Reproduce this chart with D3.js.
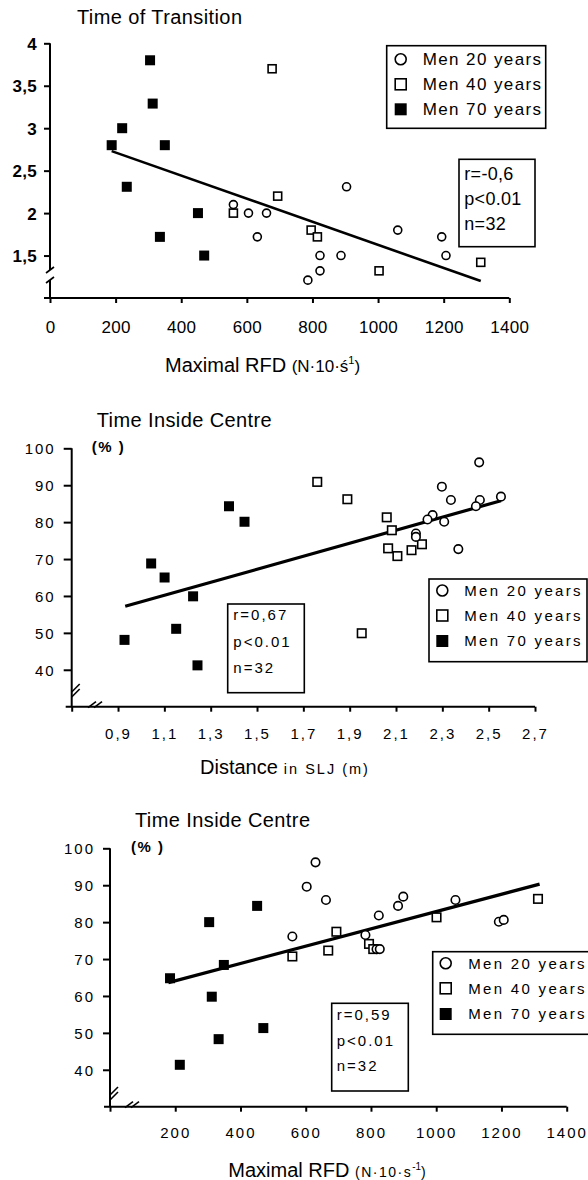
<!DOCTYPE html>
<html>
<head>
<meta charset="utf-8">
<script src="https://cdn.jsdelivr.net/npm/d3@7"></script>
<style>
  body { margin: 0; background: #fff; }
  svg { display: block; font-family: "Liberation Sans", Arial, sans-serif; }
</style>
</head>
<body>
<svg id="fig" width="588" height="1180"></svg>
<script>
// ---- Panel 1 : Time of Transition vs maximal RFD
const trans20 = [[559,2.1],[605,2.0],[660,2.0],[632,1.72],[904,2.31],[823,1.5],[887,1.5],[823,1.32],[786,1.21],[1060,1.8],[1194,1.72],[1207,1.5]];
const trans40 = [[677,3.7],[694,2.2],[559,2.0],[796,1.8],[815,1.72],[1003,1.32],[1313,1.42]];
const trans70 = [[305,3.8],[313,3.29],[220,3.0],[188,2.8],[350,2.8],[234,2.31],[451,2.0],[335,1.72],[470,1.5]];
const transFit = [[188,2.73],[1313,1.2]];
const transXTicks = [0,200,400,600,800,1000,1200,1400];
const transYTicks = [1.5,2,2.5,3,3.5,4];
const transStats = ["r=-0,6","p<0.01","n=32"];

// ---- Panel 2 : Time inside centre vs distance in SLJ
const slj20 = [[2.459,96.2],[2.298,89.6],[2.337,86.0],[2.462,86.0],[2.445,84.3],[2.553,86.9],[2.258,81.9],[2.236,80.7],[2.308,80.1],[2.186,76.9],[2.186,76.0],[2.369,72.7]];
const slj40 = [[1.76,90.9],[1.89,86.2],[2.06,81.3],[2.082,77.8],[2.066,72.9],[2.106,70.8],[2.167,72.4],[2.212,74.0],[1.952,49.9]];
const slj70 = [[1.379,84.3],[1.446,80.1],[1.043,68.8],[1.101,65.0],[1.224,59.9],[0.928,48.1],[1.151,51.1],[1.243,41.2]];
const sljFit = [[0.931,57.2],[2.553,85.8]];
const sljXTicks = [0.7,0.9,1.1,1.3,1.5,1.7,1.9,2.1,2.3,2.5,2.7];
const centreYTicks = [40,50,60,70,80,90,100];
const sljStats = ["r=0,67","p<0.01","n=32"];

// ---- Panel 3 : Time inside centre vs maximal RFD
const rfd20 = [[630,96.2],[603,89.6],[662,86.0],[899,86.9],[883,84.4],[824,81.8],[1059,86.0],[1192,80.1],[1207,80.6],[559,76.1],[783,76.5],[817,72.7],[827,72.7]];
const rfd40 = [[694,77.4],[669,72.3],[559,70.7],[794,74.1],[807,72.7],[1001,81.3],[1312,86.3]];
const rfd70 = [[184,64.8],[304,80.0],[451,84.4],[349,68.4],[312,59.8],[214,41.35],[333,48.3],[470,51.3]];
const rfdFit = [[179,63.6],[1317,90.3]];
const rfdXTicks = [0,200,400,600,800,1000,1200,1400];
const rfdStats = ["r=0,59","p<0.01","n=32"];

const groupLabels = ["Men 20 years","Men 40 years","Men 70 years"];

const svg = d3.select("#fig");
const comma = d => String(d).replace(".", ",");

function marker(sel, kind, cx, cy, s){
  if (kind === 0){
    sel.append("circle").attr("cx",cx).attr("cy",cy).attr("r",s/2)
      .attr("fill","#fff").attr("stroke","#000").attr("stroke-width",1.6);
  } else if (kind === 1){
    sel.append("rect").attr("x",cx-s/2).attr("y",cy-s/2).attr("width",s).attr("height",s)
      .attr("fill","#fff").attr("stroke","#000").attr("stroke-width",1.6);
  } else {
    sel.append("rect").attr("x",cx-s/2-0.5).attr("y",cy-s/2-0.5).attr("width",s+1).attr("height",s+1)
      .attr("fill","#000");
  }
}

function drawPanel(p){
  const g = svg.append("g");
  const x = d3.scaleLinear().domain(p.xDomain).range(p.xRange);
  const y = d3.scaleLinear().domain(p.yDomain).range(p.yRange);
  const x0 = p.xRange[0], yB = p.yRange[0], yT = p.yRange[1];

  // y axis ticks + labels
  const ya = g.append("g").attr("transform",`translate(${x0},0)`)
    .call(d3.axisLeft(y).tickValues(p.yTicks).tickSize(p.yTick).tickSizeOuter(0)
      .tickPadding(p.yPad).tickFormat(comma));
  ya.select(".domain").remove();
  ya.selectAll("line").attr("stroke","#000").attr("stroke-width",2);
  ya.selectAll("text").attr("fill","#000").style("font-family",null)
    .attr("font-size",p.yFont).attr("font-weight",p.yWeight)
    .attr("letter-spacing",p.tickLs).attr("dy","0.36em");

  // x axis ticks + labels
  const xa = g.append("g").attr("transform",`translate(0,${yB})`)
    .call(d3.axisBottom(x).tickValues(p.xTicks).tickSize(5).tickSizeOuter(0)
      .tickFormat(d => p.hideFirst && d === p.xDomain[0] ? "" : comma(d)));
  xa.select(".domain").remove();
  xa.selectAll("line").attr("stroke","#000").attr("stroke-width",2);
  xa.selectAll("text").attr("fill","#000").style("font-family",null)
    .attr("font-size",p.xFont).attr("font-weight",p.xWeight)
    .attr("letter-spacing",p.tickLs).attr("y",p.xLabOff).attr("dy","0.36em");

  // axis lines
  g.append("line").attr("x1",x0-6).attr("x2",p.xRange[1]).attr("y1",yB).attr("y2",yB)
    .attr("stroke","#000").attr("stroke-width",2);
  const br = p.yBreak;
  if (p.gapBreak){
    g.append("line").attr("x1",x0).attr("x2",x0).attr("y1",yT).attr("y2",br[0])
      .attr("stroke","#000").attr("stroke-width",2);
    g.append("line").attr("x1",x0).attr("x2",x0).attr("y1",br[1]).attr("y2",yB)
      .attr("stroke","#000").attr("stroke-width",2);
    [br[0],br[1]].forEach(v => g.append("line").attr("x1",x0-4).attr("x2",x0+4)
      .attr("y1",v+3).attr("y2",v-3).attr("stroke","#000").attr("stroke-width",1.6));
  } else {
    g.append("line").attr("x1",x0).attr("x2",x0).attr("y1",yT).attr("y2",yB)
      .attr("stroke","#000").attr("stroke-width",2);
    [0,5].forEach(o => g.append("line").attr("x1",x0).attr("x2",x0+8)
      .attr("y1",br[0]+o+4).attr("y2",br[0]+o-4).attr("stroke","#000").attr("stroke-width",1.6));
    [0,6].forEach(o => g.append("line").attr("x1",p.xBreak+o).attr("x2",p.xBreak+o+8)
      .attr("y1",yB+1).attr("y2",yB-5).attr("stroke","#000").attr("stroke-width",1.6));
  }

  // regression line
  g.append("line")
    .attr("x1",x(p.fit[0][0])).attr("y1",y(p.fit[0][1]))
    .attr("x2",x(p.fit[1][0])).attr("y2",y(p.fit[1][1]))
    .attr("stroke","#000").attr("stroke-width",p.fitW);

  // points
  const pts = g.append("g");
  [p.s70, p.s40, p.s20].forEach((arr,i) => {
    const kind = 2 - i;
    arr.forEach(d => marker(pts, kind, x(d[0]), y(d[1]), kind === 2 ? p.fillSize : p.openSize));
  });

  // title
  g.append("text").attr("x",p.title[1]).attr("y",p.title[2])
    .attr("font-size",20).attr("letter-spacing",0.4).text(p.title[0]);
  if (p.pct){
    g.append("text").attr("x",p.pct[0]).attr("y",p.pct[1])
      .attr("font-size",15).attr("font-weight","bold").attr("letter-spacing",1.5).text("(% )");
  }

  // x title
  const xt = g.append("text").attr("x",p.xTitle.x).attr("y",p.xTitle.y);
  p.xTitle.parts.forEach(t => {
    const ts = xt.append("tspan").attr("font-size",t.size).text(t.text);
    if (t.ls) ts.attr("letter-spacing",t.ls);
    if (t.dy) ts.attr("dy",t.dy);
  });

  // legend
  const L = p.legend;
  g.append("rect").attr("x",L.box[0]).attr("y",L.box[1])
    .attr("width",L.box[2]-L.box[0]).attr("height",L.box[3]-L.box[1])
    .attr("fill","#fff").attr("stroke","#000").attr("stroke-width",1.6);
  groupLabels.forEach((lab,i) => {
    marker(g, i, L.mx, L.rows[i], 11);
    g.append("text").attr("x",L.tx).attr("y",L.rows[i]).attr("dy","0.36em")
      .attr("font-size",L.font).attr("letter-spacing",L.ls).text(lab);
  });

  // stats box
  const S = p.stats;
  g.append("rect").attr("x",S.box[0]).attr("y",S.box[1])
    .attr("width",S.box[2]-S.box[0]).attr("height",S.box[3]-S.box[1])
    .attr("fill","#fff").attr("stroke","#000").attr("stroke-width",1.6);
  p.statText.forEach((t,i) => {
    g.append("text").attr("x",S.tx).attr("y",S.rows[i]).attr("dy","0.36em")
      .attr("font-size",S.font).attr("letter-spacing",S.ls).text(t);
  });
}

drawPanel({
  xDomain:[0,1400], xRange:[50,509.3], yDomain:[1,4], yRange:[298,43.3],
  xTicks:transXTicks, yTicks:transYTicks, yTick:6, yPad:7,
  yFont:17, yWeight:"bold", xFont:17, xWeight:"normal", tickLs:0.3, xLabOff:29,
  hideFirst:false, gapBreak:true, yBreak:[270,280],
  fit:transFit, fitW:2.6, s20:trans20, s40:trans40, s70:trans70,
  fillSize:9, openSize:8,
  title:["Time of Transition",77,24],
  xTitle:{x:165, y:372, parts:[
    {text:"Maximal RFD ", size:20},
    {text:"(N·10·ś", size:17},
    {text:"1", size:11, dy:-8},
    {text:")", size:17, dy:8}]},
  legend:{box:[386.7,45.7,545.7,128.3], rows:[59.3,84.3,109.3], mx:400.7, tx:422.7, font:17, ls:1.4},
  stats:{box:[459,159.3,535,246.7], rows:[173.3,199,223.3], tx:464.3, font:18, ls:0.3},
  statText:transStats
});

drawPanel({
  xDomain:[0.7,2.7], xRange:[71.7,535], yDomain:[30,100], yRange:[706.7,448.3],
  xTicks:sljXTicks, yTicks:centreYTicks, yTick:8, yPad:8,
  yFont:15, yWeight:"normal", xFont:15, xWeight:"normal", tickLs:2, xLabOff:27,
  hideFirst:true, gapBreak:false, yBreak:[688], xBreak:88,
  fit:sljFit, fitW:3.2, s20:slj20, s40:slj40, s70:slj70,
  fillSize:9, openSize:8.5,
  title:["Time Inside Centre",96.7,426.7], pct:[91.7,451.5],
  xTitle:{x:200, y:773.5, parts:[
    {text:"Distance", size:20},
    {text:" in SLJ (m)", size:14.5, ls:2}]},
  legend:{box:[429,579,587,661.7], rows:[590.5,615.5,641], mx:442.3, tx:464.3, font:15, ls:2.3},
  stats:{box:[227.7,604,304.3,692.7], rows:[615,641.7,667.3], tx:233.3, font:15, ls:2},
  statText:sljStats
});

drawPanel({
  xDomain:[0,1400], xRange:[110,566.7], yDomain:[30,100], yRange:[1106.7,848.3],
  xTicks:rfdXTicks, yTicks:centreYTicks, yTick:7, yPad:8,
  yFont:15, yWeight:"normal", xFont:15, xWeight:"normal", tickLs:2, xLabOff:26,
  hideFirst:true, gapBreak:false, yBreak:[1091], xBreak:125,
  fit:rfdFit, fitW:3.2, s20:rfd20, s40:rfd40, s70:rfd70,
  fillSize:9, openSize:8.5,
  title:["Time Inside Centre",135,826.7], pct:[131,851.5],
  xTitle:{x:228.3, y:1177, parts:[
    {text:"Maximal RFD ", size:20},
    {text:"(N·10·s", size:14, ls:1.5},
    {text:"-1", size:10, dy:-7},
    {text:")", size:14, dy:7}]},
  legend:{box:[432.7,951.7,589,1034.3], rows:[963.3,988.3,1014], mx:445.7, tx:468.3, font:15, ls:2.3},
  stats:{box:[331.7,1003.3,408.3,1091], rows:[1015,1040.7,1066], tx:336.7, font:15, ls:2},
  statText:rfdStats
});
</script>
</body>
</html>
